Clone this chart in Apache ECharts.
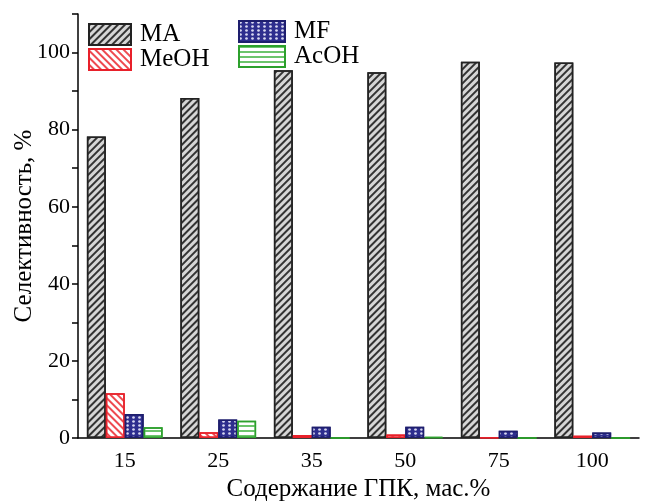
<!DOCTYPE html>
<html>
<head>
<meta charset="utf-8">
<title>Selectivity</title>
<script src="https://cdn.jsdelivr.net/npm/echarts@6/dist/echarts.min.js"></script>
<style>
  body { margin: 0; background: #fff; }
  #chart { width: 647px; height: 501px; }
</style>
</head>
<body>
<div id="chart"></div>
<script>
var categories = ['15', '25', '35', '50', '75', '100'];
var maData   = [78.2, 88.2, 95.4, 94.9, 97.6, 97.4];
var meohData = [11.6, 1.5, 0.8, 0.9, 0.1, 0.6];
var mfData   = [6.2, 4.8, 2.9, 2.9, 1.9, 1.4];
var acohData = [2.8, 4.5, 0, 0.3, 0, 0];

var font = 'Liberation Serif, Times New Roman, serif';
var chart = echarts.init(document.getElementById('chart'));

function bar(name, data, fill, border, decal) {
    return {
        name: name,
        type: 'bar',
        data: data,
        barGap: '0%',
        barCategoryGap: '19%',
        itemStyle: { color: fill, borderColor: border, borderWidth: 1.5, decal: decal }
    };
}

var legendText = { fontFamily: font, fontSize: 25, color: '#000', lineHeight: 25, padding: [0, 0, 0, 4] };

var option = {
    animation: false,
    aria: { enabled: false },
    grid: { left: 78, right: 8, top: 14, bottom: 63, outerBoundsMode: 'none', containLabel: false },
    legend: [{
        left: 88, top: 22, padding: 0, orient: 'vertical', icon: 'rect', itemWidth: 42, itemHeight: 21, itemGap: 0,
        textStyle: legendText,
        data: ['MA', 'MeOH']
    }, {
        left: 238, top: 19, padding: 0, orient: 'vertical', icon: 'rect', itemWidth: 46, itemHeight: 21, itemGap: 0,
        textStyle: legendText,
        data: ['MF', 'AcOH']
    }],
    xAxis: {
        type: 'category',
        data: categories,
        name: 'Содержание ГПК, мас.%',
        nameLocation: 'middle',
        nameGap: 36,
        nameTextStyle: { fontFamily: font, fontSize: 25, color: '#000' },
        axisLine: { lineStyle: { color: '#000', width: 1.5 } },
        axisTick: { length: 6, lineStyle: { color: '#000', width: 1.5 } },
        axisLabel: { fontFamily: font, fontSize: 22, color: '#000', margin: 12 }
    },
    yAxis: {
        type: 'value',
        min: 0, max: 110, interval: 10,
        name: 'Селективность, %',
        nameLocation: 'middle',
        nameGap: 41,
        nameMoveOverlap: false,
        nameTextStyle: { fontFamily: font, fontSize: 25, color: '#000' },
        axisLine: { show: true, lineStyle: { color: '#000', width: 1.5 } },
        axisTick: { show: true, length: 6, lineStyle: { color: '#000', width: 1.5 } },
        splitLine: { show: false },
        axisLabel: {
            fontFamily: font, fontSize: 22, color: '#000', margin: 8,
            formatter: function (v) { return (v % 20 === 0 && v <= 100) ? v : ''; }
        }
    },
    series: [
        bar('MA', maData, '#d6d6d6', '#222', {
            symbol: 'rect', symbolSize: 1, color: '#333',
            dashArrayX: [1, 0], dashArrayY: [1.5, 3], rotation: -Math.PI / 4
        }),
        bar('MeOH', meohData, '#ffffff', '#e8202a', {
            symbol: 'rect', symbolSize: 1, color: '#ee4a50',
            dashArrayX: [1, 0], dashArrayY: [1.5, 3], rotation: Math.PI / 4
        }),
        bar('MF', mfData, '#2e2e8e', '#1e1e6e', {
            symbol: 'circle', symbolSize: 0.9, color: '#d8d8f0',
            dashArrayX: [[3, 3]], dashArrayY: [3, 1]
        }),
        bar('AcOH', acohData, '#ffffff', '#2ca02c', {
            symbol: 'rect', symbolSize: 1, color: '#6cc46c',
            dashArrayX: [1, 0], dashArrayY: [1.5, 3], rotation: 0
        })
    ]
};
chart.setOption(option);
</script>
</body>
</html>
